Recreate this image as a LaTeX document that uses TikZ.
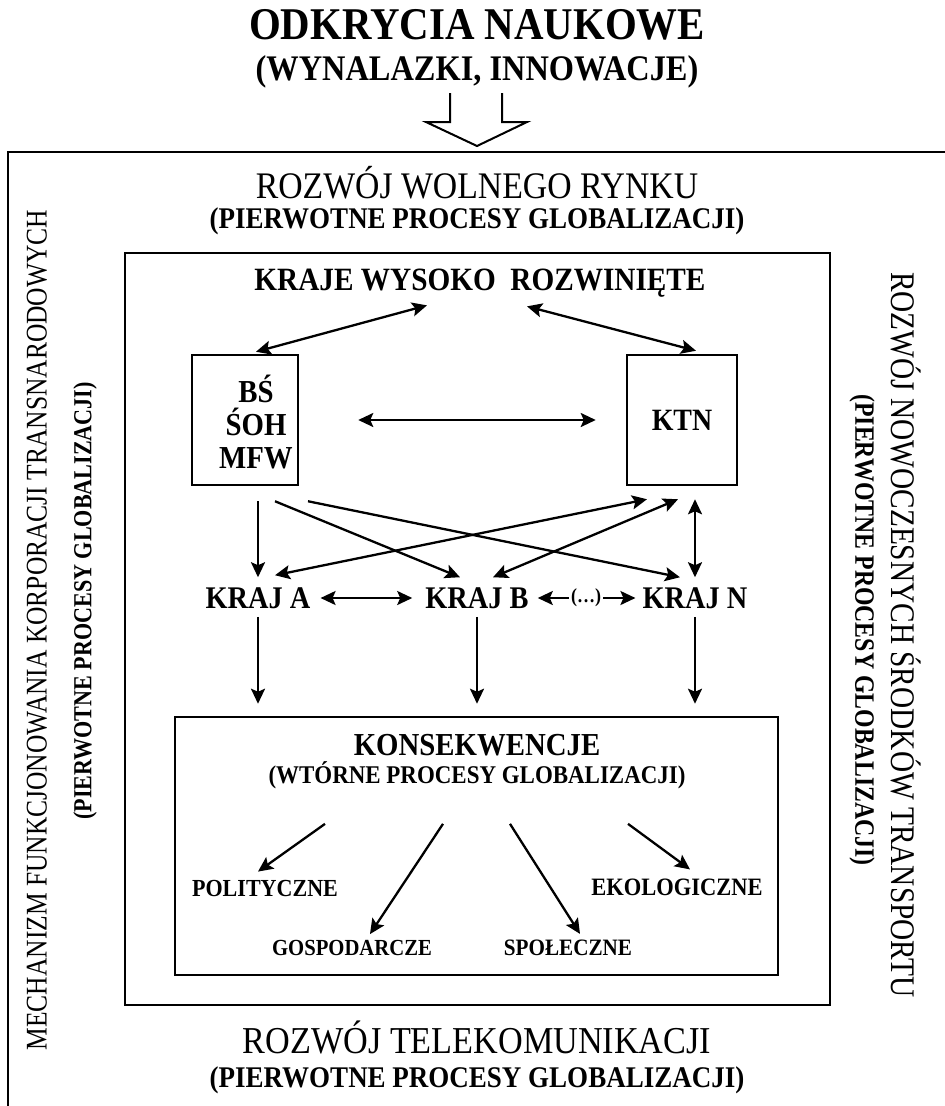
\documentclass[tikz,border=0pt]{standalone}
\usepackage{fontspec}
\setmainfont[FakeStretch=0.9]{Liberation Serif}
\newfontfamily\narrowfont[FakeStretch=0.85]{Liberation Serif}
\usetikzlibrary{arrows.meta, calc, positioning}
\newcommand{\fsz}[1]{\fontsize{#1}{#1}\selectfont}
\tikzset{
  txt/.style={inner sep=0pt},
  frame/.style={draw, line width=2.5pt},
  arr/.style={line width=2.3pt, -{Stealth[length=15pt,width=14pt,inset=3pt]}},
  dbl/.style={line width=2.3pt, {Stealth[length=15pt,width=14pt,inset=3pt]}-{Stealth[length=15pt,width=14pt,inset=3pt]}}
}

\begin{document}
\begin{tikzpicture}[x=1pt, y=-1pt]
        \useasboundingbox (0,0) rectangle (945,1106);
        % Heading
        \node[txt, font=\bfseries\fsz{45.4}] (odk) at (477,25) {ODKRYCIA NAUKOWE};
        \node[txt, font=\bfseries\fsz{36}] (wyn) at (477,72) {(WYNALAZKI, INNOWACJE)};
        % Hollow arrow into the frame
        \draw[line width=2pt, line join=miter] (450,93) -- (450,122) -- (426,122) -- (477,146) -- (527,122) -- (502,122) -- (502,93);
        % Outer frame (runs off the page)
        \draw[frame] (945,152) -- (8,152) -- (8,1106);
        \node[txt, anchor=base, font=\fsz{37.5}] (wolny) at (477,198) {ROZWÓJ WOLNEGO RYNKU};
        \node[txt, anchor=base, font=\bfseries\fsz{30}] (wolnyp) at (477,228) {(PIERWOTNE PROCESY GLOBALIZACJI)};
        \node[txt, anchor=base, font=\fsz{38}] (tele) at (477,1053) {ROZWÓJ TELEKOMUNIKACJI};
        \node[txt, anchor=base, font=\bfseries\fsz{30}] (telep) at (477,1087) {(PIERWOTNE PROCESY GLOBALIZACJI)};
        % Side labels
        \node[txt, rotate=90, font=\narrowfont\fsz{30}] (mech) at (37,630) {MECHANIZM FUNKCJONOWANIA KORPORACJI TRANSNARODOWYCH};
        \node[txt, rotate=90, font=\narrowfont\bfseries\fsz{26}] (mechp) at (85,601) {(PIERWOTNE PROCESY GLOBALIZACJI)};
        \node[txt, rotate=-90, font=\narrowfont\fsz{34.5}] (trans) at (906,635) {ROZWÓJ NOWOCZESNYCH ŚRODKÓW TRANSPORTU};
        \node[txt, rotate=-90, font=\narrowfont\bfseries\fsz{28}] (transp) at (862,630) {(PIERWOTNE PROCESY GLOBALIZACJI)};
        % Inner frame
        \draw[frame] (125,253) rectangle (830,1005);
        \node[txt, font=\bfseries\fsz{32.5}] (kwr) at (480,283) {KRAJE WYSOKO\ \ ROZWINIĘTE};
        \node[frame, minimum width=106pt, minimum height=130pt] (bs) at (245,420) {};
        \node[txt, align=center, font=\bfseries\fontsize{32}{33}\selectfont] (bstxt) at ($(bs.center)+(11,2)$) {BŚ\\ŚOH\\MFW};
        \node[frame, minimum width=110pt, minimum height=130pt, font=\bfseries\fsz{31}] (ktn) at (682,420) {KTN};
        \draw[dbl] ($(kwr.south)+(-53,8)$) -- ($(bs.north)+(11,-2)$);
        \draw[dbl] ($(kwr.south)+(47,9)$) -- ($(ktn.north)+(14,-3)$);
        \draw[dbl] ([xshift=59pt]bs.east) -- ([xshift=-30pt]ktn.west);
        % Countries
        \node[txt, font=\bfseries\fsz{31.5}] (kA) at (258,598) {KRAJ A};
        \node[txt, font=\bfseries\fsz{31.5}] (kB) at (477,598) {KRAJ B};
        \node[txt, font=\bfseries\fsz{31.5}] (kN) at (695,598) {KRAJ N};
        \node[txt, font=\bfseries\fsz{20}] (dots) at (586,598) {(\dots)};
        \draw[dbl] ([xshift=10pt]kA.east) -- ([xshift=-13pt]kB.west);
        \draw[arr] ([xshift=-2pt]dots.west) -- ([xshift=9pt]kB.east);
        \draw[arr] ([xshift=2pt]dots.east) -- ([xshift=-7pt]kN.west);
        \draw[arr] ($(bs.south)+(13,15)$) -- ($(kA.north)+(0,-10)$);
        \draw[arr] ($(bs.south)+(30,15)$) -- ($(kB.north)+(-17,-10)$);
        \draw[arr] ($(bs.south)+(63,15)$) -- ($(kN.north)+(-15,-10)$);
        \draw[dbl] ($(ktn.south)+(-35,13)$) -- ($(kA.north)+(17,-12)$);
        \draw[dbl] ($(ktn.south)+(-4,13)$) -- ($(kB.north)+(16,-10)$);
        \draw[dbl] ($(ktn.south)+(13,13)$) -- ($(kN.north)+(0,-10)$);
        % Consequences
        \node[frame, minimum width=603pt, minimum height=258pt] (kons) at (476.5,846) {};
        \foreach \k in {kA,kB,kN}
            \draw[arr] ([yshift=-8pt]\k.south) -- ([yshift=12pt]\k.south |- kons.north);
        \node[txt, font=\bfseries\fsz{32}] (konst) at (477,745) {KONSEKWENCJE};
        \node[txt, font=\bfseries\fsz{25.5}] (konsp) at (477,775) {(WTÓRNE PROCESY GLOBALIZACJI)};
        \node[txt, font=\bfseries\fsz{24.5}] (pol) at (265,888) {POLITYCZNE};
        \node[txt, font=\bfseries\fsz{25}] (eko) at (677,887) {EKOLOGICZNE};
        \node[txt, font=\bfseries\fsz{23}] (gos) at (352,948) {GOSPODARCZE};
        \node[txt, font=\bfseries\fsz{23.5}] (spo) at (568,948) {SPOŁECZNE};
        \foreach \dx/\t/\ex/\ey in {-152/pol/-7/-8, -34/gos/18/-6, 33/spo/12/-6, 151/eko/13/-9}
            \draw[arr] ($(konsp.south)+(\dx,35)$) -- ($(\t.north)+(\ex,\ey)$);
\end{tikzpicture}
\end{document}
